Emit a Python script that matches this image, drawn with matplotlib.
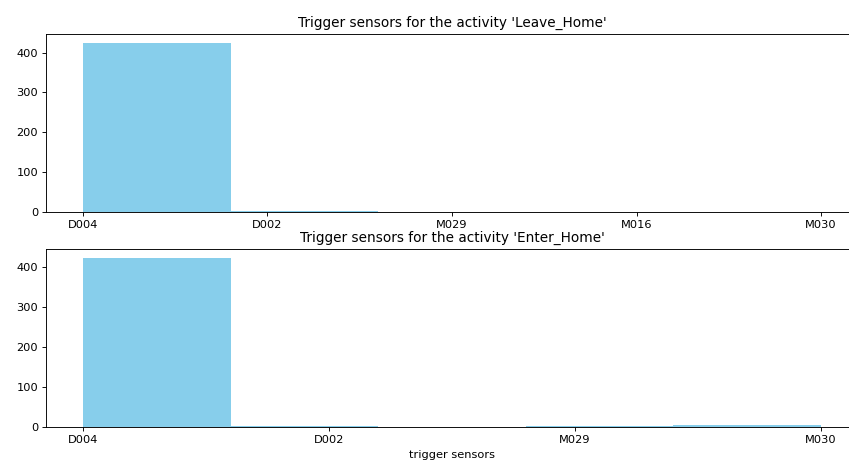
import matplotlib
matplotlib.use("Agg")
import matplotlib.pyplot as plt

# sensor counts per activity
leave_sensors = ["D004", "D002", "M029", "M016", "M030"]
leave_counts = [425, 3, 1, 1, 1]

enter_sensors = ["D004", "D002", "M029", "M030"]
enter_counts = [424, 2, 2, 4]

# the reference looks like a downscaled render, so use a lower dpi
DPI = 82
fig = plt.figure(figsize=(849 / DPI, 461 / DPI), dpi=DPI)

# top panel (right edge runs slightly past the figure, as in the reference)
ax1 = fig.add_axes([0.0542, 0.540, 0.9564, 0.386])
ax1.hist(leave_sensors, weights=leave_counts, bins=5, color="skyblue")
ax1.set_title("Trigger sensors for the activity 'Leave_Home'")

# bottom panel
ax2 = fig.add_axes([0.0542, 0.0738, 0.9564, 0.386])
ax2.hist(enter_sensors, weights=enter_counts, bins=5, color="skyblue")
ax2.set_title("Trigger sensors for the activity 'Enter_Home'")
ax2.set_xlabel("trigger sensors")

fig.savefig("out.png", dpi=DPI)
